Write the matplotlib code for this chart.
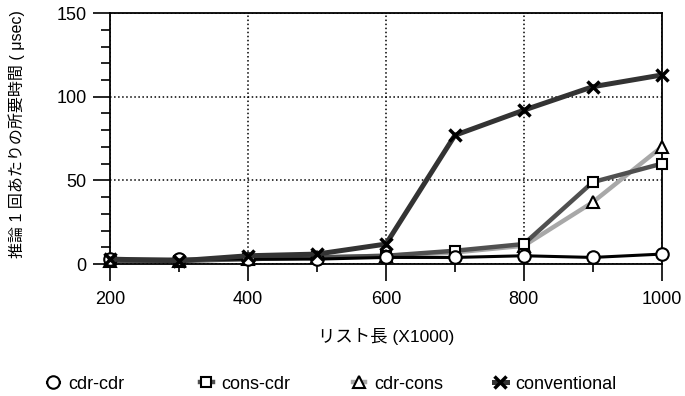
import matplotlib
matplotlib.use("Agg")
import matplotlib.pyplot as plt
from matplotlib.ticker import MultipleLocator

plt.rcParams['font.family'] = ['Liberation Sans', 'Noto Sans CJK JP', 'DejaVu Sans']

# リスト長 (x1000)
list_len = [200, 300, 400, 500, 600, 700, 800, 900, 1000]

# 推論1回あたりの所要時間 (usec)
cdr_cdr = [3, 3, 3, 3, 4, 4, 5, 4, 6]
cons_cdr = [2, 2, 3, 4, 5, 8, 12, 49, 60]
cdr_cons = [2, 2, 3, 4, 5, 7, 11, 37, 70]
conventional = [3, 2, 5, 6, 12, 77, 92, 106, 113]

series_names = ['cdr-cdr', 'cons-cdr', 'cdr-cons', 'conventional']

fig = plt.figure(figsize=(6.85, 3.96), dpi=100)
ax = fig.add_axes([0.161, 0.333, 0.805, 0.634])

# draw back to front
l_dcons, = ax.plot(list_len, cdr_cons, color='#a8a8a8', lw=3.2, marker='^', ms=8,
                   mfc='white', mec='black', mew=1.5, zorder=3, clip_on=False)
l_ccdr, = ax.plot(list_len, cons_cdr, color='#505050', lw=3.2, marker='s', ms=7.5,
                  mfc='white', mec='black', mew=1.5, zorder=4, clip_on=False)
l_dcdr, = ax.plot(list_len, cdr_cdr, color='black', lw=2.2, marker='o', ms=9,
                  mfc='white', mec='black', mew=1.5, zorder=5, clip_on=False)
l_conv, = ax.plot(list_len, conventional, color='#333333', lw=3.6, marker='x', ms=8,
                  mec='black', mew=2.5, zorder=6, clip_on=False)

ax.set_xlim(200, 1000)
ax.set_ylim(0, 150)
ax.xaxis.set_major_locator(MultipleLocator(200))
ax.xaxis.set_minor_locator(MultipleLocator(100))
ax.yaxis.set_major_locator(MultipleLocator(50))
ax.yaxis.set_minor_locator(MultipleLocator(10))

ax.tick_params(axis='x', which='major', direction='out', length=12, width=1.2, pad=7, labelsize=13)
ax.tick_params(axis='x', which='minor', direction='out', length=6, width=1.2)
ax.tick_params(axis='y', which='major', direction='out', length=12, width=1.2, pad=5, labelsize=13)
ax.tick_params(axis='y', which='minor', direction='out', length=6.5, width=1.2)

for s in ax.spines.values():
    s.set_linewidth(1.3)

ax.grid(which='major', linestyle=':', color='black', lw=1.1)
ax.set_axisbelow(True)

ax.set_xlabel('リスト長 (X1000)', fontsize=12.5)
ax.xaxis.set_label_coords(0.5, -0.255)
ax.set_ylabel('推論 1 回あたりの所要時間 ( μsec)', fontsize=11.5)
ax.yaxis.set_label_coords(-0.154, 0.52)

# legend entries sit in evenly spaced slots along the bottom
leg_x = [0.068, 0.292, 0.515, 0.721]
for h, name, x in zip([l_dcdr, l_ccdr, l_dcons, l_conv], series_names, leg_x):
    fig.legend([h], [name], loc='center left', bbox_to_anchor=(x, 0.03), frameon=False,
               fontsize=13, handlelength=0.7, handletextpad=0.5, borderpad=0, borderaxespad=0)

fig.savefig('out.png', dpi=100)
